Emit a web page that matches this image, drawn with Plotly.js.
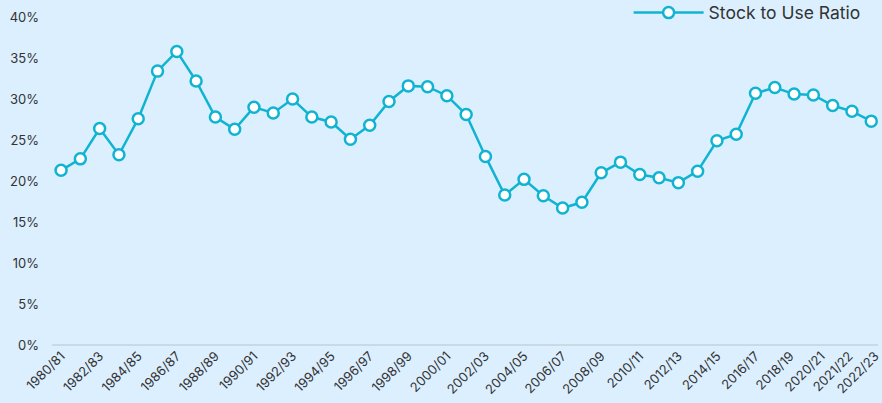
<!DOCTYPE html>
<html>
<head>
<meta charset="utf-8">
<script src="https://cdn.plot.ly/plotly-3.0.1.min.js"></script>
<style>
  html, body { margin: 0; padding: 0; background: #dcefff; }
  #chart { width: 882px; height: 403px; }
</style>
</head>
<body>
<div id="chart"></div>
<script>
const seasons = [
  "1980/81","1981/82","1982/83","1983/84","1984/85","1985/86","1986/87","1987/88","1988/89","1989/90",
  "1990/91","1991/92","1992/93","1993/94","1994/95","1995/96","1996/97","1997/98","1998/99","1999/00",
  "2000/01","2001/02","2002/03","2003/04","2004/05","2005/06","2006/07","2007/08","2008/09","2009/10",
  "2010/11","2011/12","2012/13","2013/14","2014/15","2015/16","2016/17","2017/18","2018/19","2019/20",
  "2020/21","2021/22","2022/23"
];
const stockToUse = [
  21.3, 22.7, 26.4, 23.2, 27.6, 33.4, 35.8, 32.2, 27.8, 26.3,
  29.0, 28.3, 30.0, 27.8, 27.2, 25.1, 26.8, 29.7, 31.6, 31.5,
  30.4, 28.1, 23.0, 18.3, 20.2, 18.2, 16.7, 17.4, 21.0, 22.3,
  20.8, 20.4, 19.8, 21.2, 24.9, 25.7, 30.7, 31.4, 30.6, 30.5,
  29.2, 28.5, 27.3
];
const tickLabels = [
  "1980/81","1982/83","1984/85","1986/87","1988/89","1990/91","1992/93","1994/95","1996/97","1998/99",
  "2000/01","2002/03","2004/05","2006/07","2008/09","2010/11","2012/13","2014/15","2016/17","2018/19",
  "2020/21","2021/22","2022/23"
];
const yTicks = [0, 5, 10, 15, 20, 25, 30, 35, 40];

// the last labels in the reference are spread out slightly so they don't collide
const labelNudge = { "2018/19": -0.2, "2020/21": -0.6, "2021/22": -0.15, "2022/23": 0.2 };
const tickPositions = tickLabels.map(t => seasons.indexOf(t) + (labelNudge[t] || 0));

const lineColor = "#10b4d2";

const trace = {
  type: "scatter",
  mode: "lines+markers",
  name: "Stock to Use Ratio",
  x: seasons,
  y: stockToUse.map(v => v / 100),
  line: { color: lineColor, width: 2.5 },
  marker: { size: 11, color: "#ffffff", line: { color: lineColor, width: 2.5 } },
  hoverinfo: "x+y"
};

const layout = {
  width: 882,
  height: 403,
  paper_bgcolor: "#dcefff",
  plot_bgcolor: "#dcefff",
  font: { family: "Inter, 'Noto Sans', sans-serif", size: 13, color: "#333333" },
  margin: { l: 52, r: 4, t: 17, b: 58, pad: 0, autoexpand: false },
  showlegend: true,
  legend: {
    orientation: "h",
    x: 0.985, xanchor: "right",
    y: 1.013, yanchor: "middle",
    bgcolor: "rgba(0,0,0,0)",
    font: { family: "Inter, 'Noto Sans', sans-serif", size: 17.5, color: "#333333" },
    itemwidth: 70
  },
  xaxis: {
    type: "category",
    range: [-0.47, 42.35],
    tickmode: "array",
    tickvals: tickPositions,
    ticktext: tickLabels,
    tickangle: -45,
    showgrid: false,
    zeroline: false,
    showline: false,
    ticks: "",
    automargin: false,
    tickfont: { size: 13, color: "#333333" },
    fixedrange: true
  },
  yaxis: {
    range: [0, 0.4],
    tickmode: "array",
    tickvals: yTicks.map(v => v / 100),
    ticktext: yTicks.map(v => v + "%"),
    showgrid: false,
    zeroline: true,
    zerolinecolor: "#c9d9e6",
    zerolinewidth: 1.5,
    showline: false,
    ticks: "",
    automargin: false,
    ticklabelstandoff: 12,
    tickfont: { size: 13, color: "#333333" },
    fixedrange: true
  }
};

Plotly.newPlot("chart", [trace], layout, { displayModeBar: false, staticPlot: true });
</script>
</body>
</html>
